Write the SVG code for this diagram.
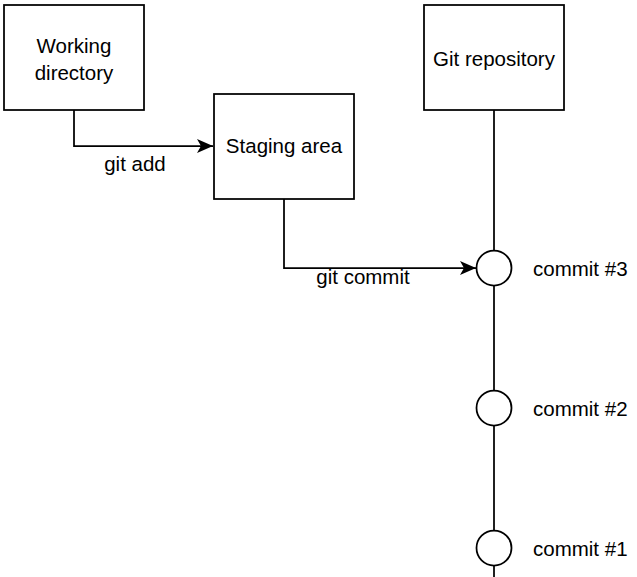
<svg xmlns="http://www.w3.org/2000/svg" width="637" height="577" viewBox="0 0 637 577">
<style>
.box{fill:#fff;stroke:#000;stroke-width:1.75}
.c{fill:#fff;stroke:#000;stroke-width:1.75}
.ln{fill:none;stroke:#000;stroke-width:1.75}
text{font-family:"Liberation Sans",Arial,sans-serif;font-size:20.5px;fill:#000}
.m{text-anchor:middle}
</style>
<defs>
<marker id="ar" viewBox="0 0 16 14" refX="16" refY="7" markerWidth="16" markerHeight="14" markerUnits="userSpaceOnUse" orient="auto">
<path d="M0,0 L16,7 L0,14 L4,7 Z" fill="#000"/>
</marker>
</defs>
<rect width="637" height="577" fill="#fff"/>
<g id="connectors">
<line class="ln" x1="494" y1="110" x2="494" y2="577"/>
<path class="ln" d="M74,110 V146 H213" marker-end="url(#ar)"/>
<path class="ln" d="M284,199 V268 H476" marker-end="url(#ar)"/>
<text class="m" x="135" y="171">git add</text>
<text class="m" x="363" y="284">git commit</text>
</g>
<g id="working">
<rect class="box" x="4" y="5" width="140" height="105"/>
<text class="m" x="74" y="53">Working</text>
<text class="m" x="74" y="80">directory</text>
</g>
<g id="staging">
<rect class="box" x="214" y="94" width="140" height="105"/>
<text class="m" x="284" y="153">Staging area</text>
</g>
<g id="repo">
<rect class="box" x="424" y="5" width="140" height="105"/>
<text class="m" x="494" y="66">Git repository</text>
</g>
<g id="commit3">
<circle class="c" cx="494" cy="268" r="17.5"/>
<text x="533" y="276">commit #3</text>
</g>
<g id="commit2">
<circle class="c" cx="494" cy="408" r="17.5"/>
<text x="533" y="416">commit #2</text>
</g>
<g id="commit1">
<circle class="c" cx="494" cy="548" r="17.5"/>
<text x="533" y="556">commit #1</text>
</g>
</svg>
